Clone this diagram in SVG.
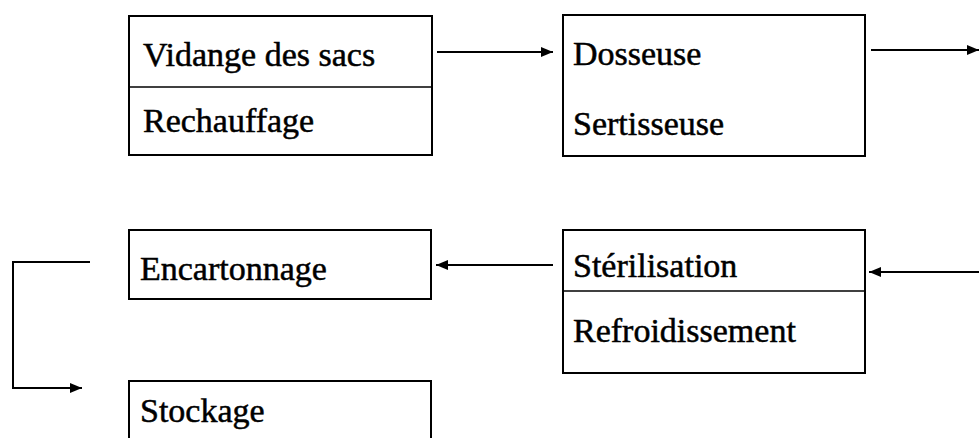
<svg xmlns="http://www.w3.org/2000/svg" width="979" height="438" viewBox="0 0 979 438">
<defs>
<marker id="ah" viewBox="0 0 12 10" refX="12" refY="5" markerWidth="12" markerHeight="10" markerUnits="userSpaceOnUse" orient="auto">
<path d="M0,0 L12,5 L0,10 Z" fill="#000"/>
</marker>
<style>
.box{fill:#fff;stroke:#000;stroke-width:2}
.div{stroke:#000;stroke-width:1.5}
.t{font-family:"Liberation Serif","Times New Roman",serif;font-size:34px;fill:#000;stroke:#000;stroke-width:0.5}
.c{fill:none;stroke:#000;stroke-width:2}
</style>
</defs>
<rect width="979" height="438" fill="#fff"/>
<g id="n1">
<rect class="box" x="129" y="16" width="303" height="139"/>
<line class="div" x1="129" y1="87" x2="432" y2="87"/>
<text class="t" x="143" y="66">Vidange des sacs</text>
<text class="t" x="143" y="132">Rechauffage</text>
</g>
<g id="n2">
<rect class="box" x="563" y="15" width="302" height="141"/>
<text class="t" x="573" y="65">Dosseuse</text>
<text class="t" x="573" y="135">Sertisseuse</text>
</g>
<g id="n3">
<rect class="box" x="563" y="230" width="302" height="143"/>
<line class="div" x1="563" y1="291" x2="865" y2="291"/>
<text class="t" x="573" y="277">Stérilisation</text>
<text class="t" x="573" y="342">Refroidissement</text>
</g>
<g id="n4">
<rect class="box" x="129" y="230" width="302" height="69"/>
<text class="t" x="140" y="280">Encartonnage</text>
</g>
<g id="n5">
<rect class="box" x="129" y="381" width="302" height="60"/>
<text class="t" x="140" y="422">Stockage</text>
</g>
<g id="connectors">
<line class="c" x1="437" y1="52" x2="553" y2="52" marker-end="url(#ah)"/>
<line class="c" x1="871" y1="50" x2="979" y2="50" marker-end="url(#ah)"/>
<line class="c" x1="979" y1="272" x2="869" y2="272" marker-end="url(#ah)"/>
<line class="c" x1="553" y1="265" x2="436" y2="265" marker-end="url(#ah)"/>
<polyline class="c" points="90,262 13,262 13,388 82,388" marker-end="url(#ah)"/>
</g>
</svg>
